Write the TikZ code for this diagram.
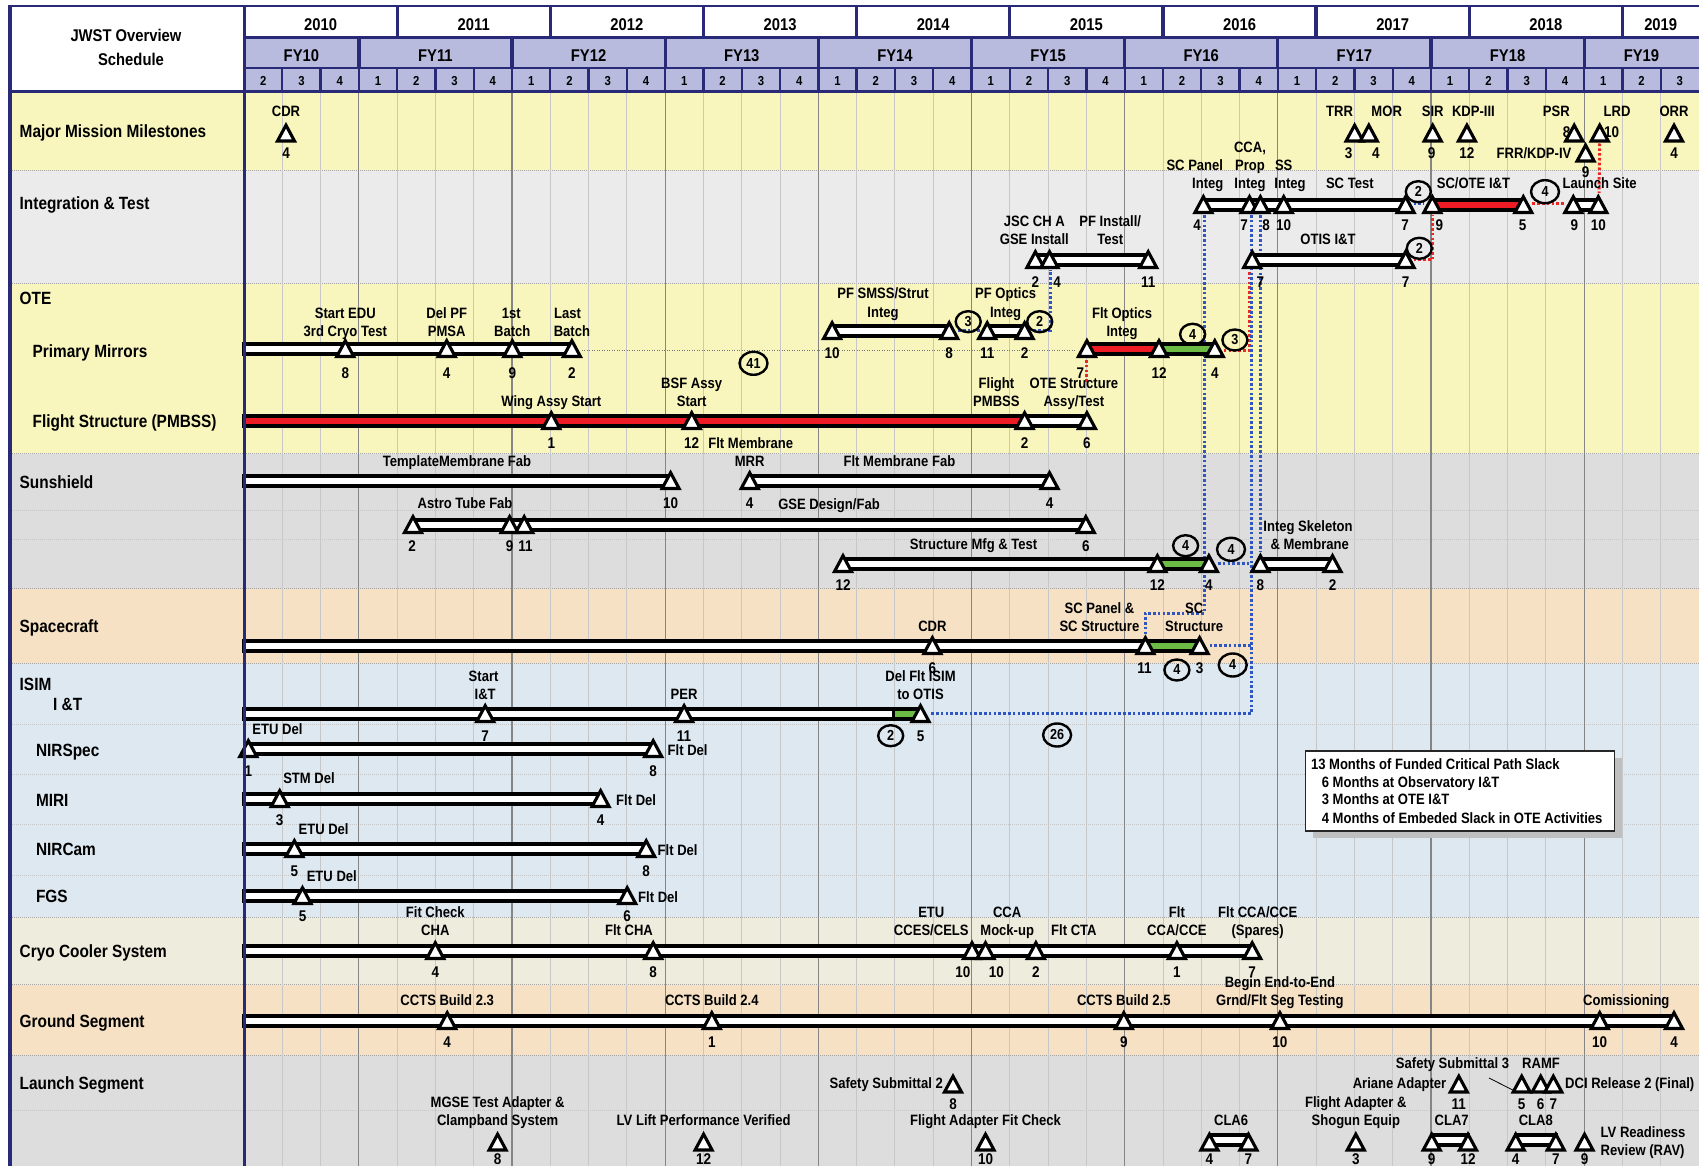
\documentclass[tikz,border=0pt]{standalone}
\usepackage{fontspec}
\newfontfamily\lf{Liberation Sans}[FakeStretch=0.87]
\usetikzlibrary{shapes.geometric,calc}
\definecolor{navy}{RGB}{40,42,120}
\definecolor{lav}{RGB}{184,186,222}
\definecolor{cyel}{RGB}{248,246,189}
\definecolor{cig}{RGB}{235,235,235}
\definecolor{csg}{RGB}{221,221,221}
\definecolor{cpe}{RGB}{246,225,196}
\definecolor{cbl}{RGB}{221,232,241}
\definecolor{ccr}{RGB}{238,237,221}
\definecolor{bred}{RGB}{237,28,36}
\definecolor{bgreen}{RGB}{108,187,69}
\definecolor{dblue}{RGB}{47,85,192}
\definecolor{dred}{RGB}{237,40,36}
\newcommand\fsz[1]{\fontsize{#1}{#1}\selectfont}
\newcounter{nd}
\newcommand\xl[4][lab]{\stepcounter{nd}\node[#1] (t\arabic{nd}) at (#2,#3) {#4};}
\newcommand\xcirc[4][circ]{\stepcounter{nd}\node[#1] (c\arabic{nd}) at (#2,#3) {#4};}
\newcommand\mtri[3]{\draw[trist] ({#2-8.5},{#3+7.5}) -- (#2,{#3-8.3}) -- ({#2+8.5},{#3+7.5}) -- cycle; \coordinate (#1) at (#2,#3);}
\newcommand\xbar[4]{\draw[barst, fill=#4] (#1,{#3-4.8}) rectangle (#2,{#3+4.8});}
\begin{document}
\begin{tikzpicture}[x=1pt,y=-1pt,
 lab/.style={font=\lf\bfseries\fsz{15}, inner sep=0pt, anchor=base, yshift=-5.35pt},
 labw/.style={lab, anchor=base west},
 labe/.style={lab, anchor=base east},
 num/.style={font=\lf\bfseries\fsz{15.5}, inner sep=0pt, anchor=base, yshift=-5.5pt},
 rowlab/.style={font=\lf\bfseries\fsz{17.7}, inner sep=0pt, anchor=base west, yshift=-6.3pt},
 hdr/.style={font=\lf\bfseries\fsz{17}, inner sep=0pt, anchor=base, yshift=-6.1pt},
 qtr/.style={font=\lf\bfseries\fsz{13}, inner sep=0pt, anchor=base, yshift=-4.7pt},
 circ/.style={ellipse, draw=black, line width=2.4pt, minimum width=25pt, minimum height=21pt, inner sep=0pt, font=\lf\bfseries\fsz{14.5}},
 bigcirc/.style={circ, minimum width=28pt, minimum height=23pt},
 trist/.style={draw=black, fill=white, line width=3.1pt, line join=miter},
 barst/.style={draw=black, line width=3.8pt},
 bdot/.style={draw=dblue, line width=3pt, dash pattern=on 2.6pt off 2.2pt},
 rdot/.style={draw=dred, line width=3pt, dash pattern=on 2.6pt off 2.2pt},
 faint/.style={draw=black!22, line width=0.7pt, dash pattern=on 1pt off 1pt},
 bnd/.style={draw=black!35, line width=0.8pt, dash pattern=on 1pt off 1pt},
 gridl/.style={draw=black!22, line width=0.9pt},
 gridd/.style={draw=black!48, line width=1.1pt},
 nv/.style={draw=navy}]
\useasboundingbox (0,0) rectangle (1699,1166);
\fill[white] (0,0) rectangle (1699,1166);
% bands
\fill[cyel] (10,93.3) rectangle (1699,170);
\fill[cig] (10,170) rectangle (1699,283.5);
\fill[cyel] (10,283.5) rectangle (1699,453.5);
\fill[csg] (10,453.5) rectangle (1699,588.5);
\fill[cpe] (10,588.5) rectangle (1699,663);
\fill[cbl] (10,663) rectangle (1699,917);
\fill[ccr] (10,917) rectangle (1699,984.5);
\fill[cpe] (10,984.5) rectangle (1699,1055);
\fill[csg] (10,1055) rectangle (1699,1166);
\foreach \y in {510,539,724,774,824,875,1110} \draw[faint] (10,\y) -- (1699,\y);
\foreach \y in {170,283.5,453.5,588.5,663,917,984.5,1055} \draw[bnd] (10,\y) -- (1699,\y);
% vertical grid
\foreach \i in {1,...,37}{
 \pgfmathsetmacro\xx{244+12.7632*3*\i}
 \pgfmathtruncatemacro\mm{mod(\i,4)}
 \ifnum\mm=3 \draw[gridd] (\xx,93.3) -- (\xx,1166); \else \draw[gridl] (\xx,93.3) -- (\xx,1166); \fi
}
% header
\fill[white] (10,5) rectangle (1699,37.7);
\fill[lav] (244,37.7) rectangle (1699,91.7);
\fill[white] (10,5) rectangle (244,91.7);
\draw[nv, line width=2.5pt] (8,6.2) -- (1699,6.2);
\draw[nv, line width=3.3pt] (244,37.7) -- (1699,37.7);
\draw[nv, line width=2.6pt] (244,68) -- (1699,68);
\draw[nv, line width=3.3pt] (8,91.7) -- (1699,91.7);
\foreach \k in {1,...,9}{\pgfmathsetmacro\xx{244+12.7632*12*\k}\draw[nv,line width=3.3pt] (\xx,6.2) -- (\xx,37.7);}
\foreach \k in {0,...,8}{\pgfmathsetmacro\xx{244+12.7632*(9+12*\k)}\draw[nv,line width=3.3pt] (\xx,37.7) -- (\xx,68);}
\foreach \i in {1,...,37}{\pgfmathsetmacro\xx{244+12.7632*3*\i}\draw[nv,line width=2.3pt] (\xx,68) -- (\xx,91.7);}
\foreach \k in {0,...,8}{\pgfmathsetmacro\xx{244+12.7632*(12*\k+6)}\pgfmathtruncatemacro\yr{2010+\k}\xl[hdr]{\xx}{24.5}{\yr}}
\xl[hdr]{1660.7}{24.5}{2019}
\xl[hdr]{301.4}{55}{FY10}
\foreach \k in {0,...,7}{\pgfmathsetmacro\xx{244+12.7632*(15+12*\k)}\pgfmathtruncatemacro\fy{11+\k}\xl[hdr]{\xx}{55}{FY\fy}}
\xl[hdr]{1641.5}{55}{FY19}
\foreach \i in {0,...,37}{\pgfmathsetmacro\xx{244+12.7632*(3*\i+1.5)}\pgfmathtruncatemacro\q{mod(\i+1,4)+1}\xl[qtr]{\xx}{81}{\q}}
\xl[hdr]{126}{35.8}{JWST Overview}
\xl[hdr]{131}{59.6}{Schedule}
% row labels
\xl[rowlab]{19.5}{131}{Major Mission Milestones}
\xl[rowlab]{19.5}{203.7}{Integration \& Test}
\xl[rowlab]{19.5}{298}{OTE}
\xl[rowlab]{32.5}{351}{Primary Mirrors}
\xl[rowlab]{32.5}{421.5}{Flight Structure (PMBSS)}
\xl[rowlab]{19.5}{482}{Sunshield}
\xl[rowlab]{19.5}{626}{Spacecraft}
\xl[rowlab]{19.5}{683.7}{ISIM}
\xl[rowlab]{53}{704}{I \&T}
\xl[rowlab]{35.8}{750}{NIRSpec}
\xl[rowlab]{35.8}{800}{MIRI}
\xl[rowlab]{35.8}{849.5}{NIRCam}
\xl[rowlab]{35.8}{896}{FGS}
\xl[rowlab]{19.5}{951}{Cryo Cooler System}
\xl[rowlab]{19.5}{1020.7}{Ground Segment}
\xl[rowlab]{19.5}{1083.6}{Launch Segment}
% named coordinates of milestones (for connectors)
\coordinate (mLRD) at (1599.7,133.5);
\coordinate (iP) at (1203.4,205); \coordinate (iC7) at (1249.5,205); \coordinate (iC8) at (1260.4,205);
\coordinate (iT) at (1405.6,205); \coordinate (iO1) at (1432.3,205); \coordinate (iO2) at (1523.3,205);
\coordinate (iL1) at (1573.3,205); \coordinate (iL2) at (1599,205);
\coordinate (jJ2) at (1049.5,260); \coordinate (jO1) at (1252.2,260); \coordinate (jO2) at (1405.6,260);
\coordinate (pS2) at (949.2,331); \coordinate (pO1) at (987.2,331); \coordinate (pO2) at (1024.6,331);
\coordinate (pm4) at (571.9,349); \coordinate (fo1) at (1086.9,349); \coordinate (fo3) at (1214.8,349);
\coordinate (fs4) at (1086.9,421);
\coordinate (t3) at (1208.9,564); \coordinate (k1) at (1260.4,564);
\coordinate (c2) at (1145.4,646); \coordinate (c3) at (1199.6,646);
\coordinate (d3) at (920.5,714);
% connectors
\draw[draw=black!55, line width=0.8pt, dash pattern=on 1pt off 1.5pt] ($(pm4)+(10,1)$) -- ($(fo1)+(-10,1)$);
\draw[rdot] ($(mLRD)+(0,10)$) -- ($(iL2)+(0,-12)$);
\draw[rdot] ($(iO2)+(9,-1.7)$) -- ($(iL1)+(-9,-1.7)$);
\draw[rdot] ($(jO2)+(8,0)$) -| ($(iO1)+(0,10)$);
\draw[rdot] ($(fo3)+(9,1)$) -| ($(jO1)+(-3,10)$);
\draw[rdot] ($(fo1)+(0,11)$) -- ($(fs4)+(0,-39)$);
\draw[bdot] ($(iT)+(8,-1.7)$) -- ($(iO1)+(-8,-1.7)$);
\draw[bdot] ($(pS2)+(9,-1)$) -- ($(pO1)+(-7,-1)$);
\draw[bdot] ($(pO2)+(9,-1)$) -| ($(jJ2)+(1,10)$);
\draw[bdot] ($(iP)+(0.6,10)$) -- ($(iP)+(0.6,408)$) -| ($(c2)+(0,-12)$);
\draw[bdot] ($(iC7)+(2,10)$) |- ($(d3)+(10,-0.7)$);
\draw[bdot] ($(iC8)+(0,10)$) -- ($(k1)+(0,-12)$);
\draw[bdot] ($(t3)+(9,-1)$) -- ($(iC7)+(2,358)$);
\draw[bdot] ($(c3)+(10,-0.3)$) -- ($(iC7)+(2,440.7)$);
% bars
\xbar{1203.4}{1405.6}{205}{white}
\xbar{1432.3}{1523.3}{205}{bred}
\xbar{1573.3}{1598.3}{205}{white}
\xbar{1035.4}{1148.2}{260}{white}
\xbar{1252.2}{1405.6}{260}{white}
\xbar{832.1}{949.2}{331}{white}
\xbar{987.2}{1024.6}{331}{white}
\xbar{244}{571.9}{349}{white}
\xbar{1086.9}{1159}{349}{bred}
\xbar{1159}{1214.8}{349}{bgreen}
\xbar{244}{1024.6}{421}{bred}
\xbar{1024.6}{1086.9}{421}{white}
\xbar{244}{670.6}{481}{white}
\xbar{749.7}{1049.5}{481}{white}
\xbar{413}{1085.8}{525}{white}
\xbar{843}{1157.4}{564}{white}
\xbar{1157.4}{1208.9}{564}{bgreen}
\xbar{1260.4}{1332.5}{564}{white}
\xbar{244}{1145.4}{646}{white}
\xbar{1145.4}{1199.6}{646}{bgreen}
\xbar{244}{893.4}{714}{white}
\xbar{893.4}{920.5}{714}{bgreen}
\xbar{248.3}{653.2}{749}{white}
\xbar{244}{600.6}{799}{white}
\xbar{244}{646.2}{849}{white}
\xbar{244}{627.2}{896}{white}
\xbar{244}{1252.2}{951}{white}
\xbar{244}{1674}{1021}{white}
\xbar{1209.4}{1248.4}{1140}{white}
\xbar{1431.7}{1468}{1140}{white}
\xbar{1515.7}{1555.8}{1140}{white}
% triangles
\mtri{mCDR}{286}{133.5}\mtri{mTRR}{1354.6}{133.5}\mtri{mMOR}{1368.8}{133.5}\mtri{mSIR}{1432.7}{133.5}
\mtri{mKDP}{1466.9}{133.5}\mtri{mPSR}{1574.2}{133.5}\mtri{mFRR}{1585.6}{153.5}\mtri{mLRDt}{1599.7}{133.5}\mtri{mORR}{1674}{133.5}
\mtri{iPt}{1203.4}{205}\mtri{iC7t}{1249.5}{205}\mtri{iC8t}{1260.4}{205}\mtri{iSt}{1283.7}{205}\mtri{iTt}{1405.6}{205}
\mtri{iO1t}{1432.3}{205}\mtri{iO2t}{1523.3}{205}\mtri{iL1t}{1573.3}{205}\mtri{iL2t}{1598.3}{205}
\mtri{jJ1}{1035.4}{260}\mtri{jJ2t}{1049.5}{260}\mtri{jJ3}{1148.2}{260}\mtri{jO1t}{1252.2}{260}\mtri{jO2t}{1405.6}{260}
\mtri{pS1}{832.1}{331}\mtri{pS2t}{949.2}{331}\mtri{pO1t}{987.2}{331}\mtri{pO2t}{1024.6}{331}
\mtri{pm1}{345.3}{349}\mtri{pm2}{446.7}{349}\mtri{pm3}{512.3}{349}\mtri{pm4t}{571.9}{349}
\mtri{fo1t}{1086.9}{349}\mtri{fo2}{1159}{349}\mtri{fo3t}{1214.8}{349}
\mtri{fs1}{551.3}{421}\mtri{fs2}{691.7}{421}\mtri{fs3}{1024.6}{421}\mtri{fs4t}{1086.9}{421}
\mtri{s1}{670.6}{481}\mtri{s2}{749.7}{481}\mtri{s3}{1049.5}{481}
\mtri{a1}{413}{525}\mtri{a2}{509.6}{525}\mtri{a3}{524.2}{525}\mtri{a4}{1085.8}{525}
\mtri{tt1}{843}{564}\mtri{tt2}{1157.4}{564}\mtri{tt3}{1208.9}{564}\mtri{k1t}{1260.4}{564}\mtri{k2}{1332.5}{564}
\mtri{c1}{932.4}{646}\mtri{c2t}{1145.4}{646}\mtri{c3t}{1199.6}{646}
\mtri{d1}{485.2}{714}\mtri{d2}{684.1}{714}\mtri{d3t}{920.5}{714}
\mtri{ns1}{248.3}{749}\mtri{ns2}{653.2}{749}
\mtri{mi1}{279.7}{799}\mtri{mi2}{600.6}{799}
\mtri{nc1}{294.4}{849}\mtri{nc2}{646.2}{849}
\mtri{fg1}{302.5}{896}\mtri{fg2}{627.2}{896}
\mtri{cc1}{435.3}{951}\mtri{cc2}{653.2}{951}\mtri{cc3}{972}{951}\mtri{cc4}{985.5}{951}\mtri{cc5}{1035.9}{951}\mtri{cc6}{1176.9}{951}\mtri{cc7}{1252.2}{951}
\mtri{g1}{447.2}{1021}\mtri{g2}{711.8}{1021}\mtri{g3}{1123.8}{1021}\mtri{g4}{1279.9}{1021}\mtri{g5}{1599.7}{1021}\mtri{g6}{1674}{1021}
\mtri{lu1}{953}{1084.5}\mtri{lu2}{1458.8}{1084.5}\mtri{lu3}{1521.7}{1084.5}\mtri{lu4}{1540.7}{1084.5}\mtri{lu5}{1553.3}{1084.5}
\mtri{ll1}{497.6}{1142.5}\mtri{ll2}{703.6}{1142.5}\mtri{ll3}{985.5}{1142.5}\mtri{ll4}{1209.4}{1142.5}\mtri{ll5}{1248.4}{1142.5}
\mtri{ll6}{1355.8}{1142.5}\mtri{ll7}{1431.7}{1142.5}\mtri{ll8}{1468}{1142.5}\mtri{ll9}{1515.7}{1142.5}\mtri{ll10}{1555.8}{1142.5}\mtri{ll11}{1584.5}{1142.5}
\draw[black, line width=0.8pt] (1489,1078) -- ($(lu3)+(-6,7)$);
% Major milestones labels
\xl{286}{110.7}{CDR}\xl[num]{286}{152.7}{4}
\xl{1339.5}{110.7}{TRR}\xl[num]{1348.7}{152.7}{3}
\xl{1386.7}{110.7}{MOR}\xl[num]{1375.8}{152.7}{4}
\xl{1432.7}{110.7}{SIR}\xl[num]{1431.7}{152.7}{9}
\xl{1473.4}{110.7}{KDP-III}\xl[num]{1466.9}{152.7}{12}
\xl{1556.3}{110.7}{PSR}\xl[num]{1566.7}{131.7}{8}
\xl{1617}{110.7}{LRD}\xl[num]{1611.6}{131.7}{10}
\xl{1534}{153.3}{FRR/KDP-IV}\xl[num]{1585.6}{172.3}{9}
\xl{1674}{110.7}{ORR}\xl[num]{1674}{152.7}{4}
% Integration & Test
\xl{1194.8}{165}{SC Panel}\xl{1207.8}{182.7}{Integ}
\xl{1250}{146.7}{CCA,}\xl{1250}{165}{Prop}\xl{1250}{182.7}{Integ}
\xl{1283.7}{165}{SS}\xl{1290}{182.7}{Integ}
\xl{1349.8}{182.7}{SC Test}
\xl{1473.4}{182.7}{SC/OTE I\&T}
\xl{1599.7}{182.7}{Launch Site}
\xl[num]{1197}{225}{4}\xl[num]{1244}{225}{7}\xl[num]{1266}{225}{8}\xl[num]{1283.7}{225}{10}\xl[num]{1405}{225}{7}
\xl[num]{1439.3}{225}{9}\xl[num]{1522.7}{225}{5}\xl[num]{1574.3}{225}{9}\xl[num]{1598.3}{225}{10}
\xl{1034.3}{220.7}{JSC CH A}\xl{1034.3}{238.7}{GSE Install}
\xl{1110.2}{220.7}{PF Install/}\xl{1110.2}{238.7}{Test}
\xl{1328}{238.7}{OTIS I\&T}
\xl[num]{1035.4}{281.7}{2}\xl[num]{1057}{281.7}{4}\xl[num]{1148.2}{281.7}{11}\xl[num]{1260.4}{281.7}{7}\xl[num]{1405.6}{281.7}{7}
% OTE
\xl{883}{292.7}{PF SMSS/Strut}\xl{883}{311.7}{Integ}
\xl{1005.6}{292.7}{PF Optics}\xl{1005.6}{311.7}{Integ}
\xl[num]{832.1}{352.7}{10}\xl[num]{949.2}{352.7}{8}\xl[num]{987.2}{352.7}{11}\xl[num]{1024.6}{352.7}{2}
\xl{345.3}{312.7}{Start EDU}\xl{345.3}{330.7}{3rd Cryo Test}
\xl{446.7}{312.7}{Del PF}\xl{446.7}{330.7}{PMSA}
\xl{511.2}{312.7}{1st}\xl{512.3}{330.7}{Batch}
\xl{567.6}{312.7}{Last}\xl{571.9}{330.7}{Batch}
\xl[num]{345.3}{372.7}{8}\xl[num]{446.7}{372.7}{4}\xl[num]{512.3}{372.7}{9}\xl[num]{571.9}{372.7}{2}
\xl{1122.1}{312.7}{Flt Optics}\xl{1122.1}{330.7}{Integ}
\xl[num]{1080.4}{372.7}{7}\xl[num]{1159}{372.7}{12}\xl[num]{1214.8}{372.7}{4}
\xl{551.3}{400.7}{Wing Assy Start}
\xl{691.7}{382.7}{BSF Assy}\xl{691.7}{400.7}{Start}
\xl{996.4}{382.7}{Flight}\xl{996.4}{400.7}{PMBSS}
\xl{1073.9}{382.7}{OTE Structure}\xl{1073.9}{400.7}{Assy/Test}
\xl[num]{551.3}{442.7}{1}\xl[num]{691.7}{442.7}{12}\xl[num]{1024.6}{442.7}{2}\xl[num]{1086.9}{442.7}{6}
\xl{750.8}{442.7}{Flt Membrane}
% Sunshield
\xl{457}{460.7}{TemplateMembrane Fab}
\xl{749.7}{460.7}{MRR}\xl{899.4}{460.7}{Flt Membrane Fab}
\xl[num]{670.6}{502.7}{10}\xl[num]{749.7}{502.7}{4}\xl[num]{1049.5}{502.7}{4}
\xl{465.1}{503.3}{Astro Tube Fab}\xl{829}{503.9}{GSE Design/Fab}
\xl[num]{412}{546}{2}\xl[num]{509.6}{546}{9}\xl[num]{525.5}{546}{11}\xl[num]{1085.8}{546}{6}
\xl{973.6}{544}{Structure Mfg \& Test}
\xl{1308}{526}{Integ Skeleton}\xl{1309.7}{544}{\& Membrane}
\xl[num]{843}{585}{12}\xl[num]{1157.4}{585}{12}\xl[num]{1208.9}{585}{4}\xl[num]{1260.4}{585}{8}\xl[num]{1332.5}{585}{2}
% Spacecraft
\xl{932.4}{625.7}{CDR}
\xl{1099.4}{607.7}{SC Panel \&}\xl{1099.4}{625.7}{SC Structure}
\xl{1194.2}{607.7}{SC}\xl{1194.2}{625.7}{Structure}
\xl[num]{932.4}{667.7}{6}\xl[num]{1144.4}{667.7}{11}\xl[num]{1199.6}{667.7}{3}
% ISIM
\xl{483.6}{676}{Start}\xl{485.2}{694}{I\&T}\xl{684.1}{694}{PER}
\xl{920.5}{676}{Del Flt ISIM}\xl{920.5}{694}{to OTIS}
\xl[num]{485.2}{735.7}{7}\xl[num]{684.1}{735.7}{11}\xl[num]{920.5}{735.7}{5}
\xl{277.5}{729}{ETU Del}\xl[labw]{667.5}{750}{Flt Del}
\xl[num]{248.3}{770.7}{1}\xl[num]{653.2}{770.7}{8}
\xl{309}{778.3}{STM Del}\xl[labw]{616}{800}{Flt Del}
\xl[num]{279.7}{820}{3}\xl[num]{600.6}{820}{4}
\xl{323.6}{829}{ETU Del}\xl[labw]{657.5}{850}{Flt Del}
\xl[num]{294.4}{870.7}{5}\xl[num]{646.2}{870.7}{8}
\xl{331.8}{875.7}{ETU Del}\xl[labw]{638}{896.7}{Flt Del}
\xl[num]{302.5}{916}{5}\xl[num]{627.2}{916}{6}
% Cryo
\xl{435.3}{911.7}{Fit Check}\xl{435.3}{930}{CHA}
\xl{629}{930}{Flt CHA}
\xl{931.3}{911.7}{ETU}\xl{931.3}{930}{CCES/CELS}
\xl{1007.2}{911.7}{CCA}\xl{1007.2}{930}{Mock-up}
\xl{1073.9}{930}{Flt CTA}
\xl{1176.9}{911.7}{Flt}\xl{1176.9}{930}{CCA/CCE}
\xl{1257.7}{911.7}{Flt CCA/CCE}\xl{1257.7}{930}{(Spares)}
\xl[num]{435.3}{971.7}{4}\xl[num]{653.2}{971.7}{8}\xl[num]{962.8}{971.7}{10}\xl[num]{996.4}{971.7}{10}
\xl[num]{1035.9}{971.7}{2}\xl[num]{1176.9}{971.7}{1}\xl[num]{1252.2}{971.7}{7}
% Ground
\xl{447.2}{1000}{CCTS Build 2.3}\xl{711.8}{1000}{CCTS Build 2.4}\xl{1123.8}{1000}{CCTS Build 2.5}
\xl{1279.9}{981.7}{Begin End-to-End}\xl{1279.9}{1000}{Grnd/Flt Seg Testing}
\xl{1626.3}{1000}{Comissioning}
\xl[num]{447.2}{1042.3}{4}\xl[num]{711.8}{1042.3}{1}\xl[num]{1123.8}{1042.3}{9}\xl[num]{1279.9}{1042.3}{10}
\xl[num]{1599.7}{1042.3}{10}\xl[num]{1674}{1042.3}{4}
% Launch
\xl[labe]{943}{1083.3}{Safety Submittal 2}\xl[num]{953}{1104}{8}
\xl[labe]{1446.5}{1083.3}{Ariane Adapter}\xl[num]{1458.8}{1104}{11}
\xl{1452.5}{1063.3}{Safety Submittal 3}\xl{1541}{1063}{RAMF}
\xl[labw]{1565}{1083.3}{DCI Release 2 (Final)}
\xl[num]{1521.7}{1104}{5}\xl[num]{1540.7}{1104}{6}\xl[num]{1553.3}{1104}{7}
\xl{497.6}{1101.7}{MGSE Test Adapter \&}\xl{497.6}{1120}{Clampband System}
\xl{703.6}{1120}{LV Lift Performance Verified}
\xl{985.5}{1120}{Flight Adapter Fit Check}
\xl{1231.1}{1120}{CLA6}
\xl{1355.8}{1101.7}{Flight Adapter \&}\xl{1355.8}{1120}{Shogun Equip}
\xl{1451.7}{1120}{CLA7}\xl{1535.8}{1120}{CLA8}
\xl[labw]{1600.5}{1132.3}{LV Readiness}\xl[labw]{1600.5}{1150}{Review (RAV)}
\xl[num]{497.6}{1159.3}{8}\xl[num]{703.6}{1159.3}{12}\xl[num]{985.5}{1159.3}{10}\xl[num]{1209.4}{1159.3}{4}
\xl[num]{1248.4}{1159.3}{7}\xl[num]{1355.8}{1159.3}{3}\xl[num]{1431.7}{1159.3}{9}\xl[num]{1468}{1159.3}{12}
\xl[num]{1515.7}{1159.3}{4}\xl[num]{1555.8}{1159.3}{7}\xl[num]{1584.5}{1159.3}{9}
% slack circles
\xcirc{1418.3}{191.7}{2}\xcirc[bigcirc]{1545}{191.7}{4}\xcirc{1419.3}{248.3}{2}
\xcirc{968.2}{321.7}{3}\xcirc{1039.7}{321.7}{2}\xcirc[bigcirc]{753.5}{363.3}{41}
\xcirc{1192.6}{334.3}{4}\xcirc{1234.9}{340}{3}
\xcirc{1185.6}{545.7}{4}\xcirc[bigcirc]{1231}{549.3}{4}
\xcirc{1176.9}{670}{4}\xcirc[bigcirc]{1232.7}{665}{4}
\xcirc{890.7}{735.7}{2}\xcirc[bigcirc]{1057.1}{735}{26}
% legend
\fill[black!25] (1313,758) rectangle (1622,838);
\draw[fill=white, draw=black!85, line width=1.2pt] (1305.4,751) rectangle (1614.4,831);
\xl[labw]{1310.8}{764.3}{13 Months of Funded Critical Path Slack}
\xl[labw]{1321.6}{781.7}{6 Months at Observatory I\&T}
\xl[labw]{1321.6}{799.3}{3 Months at OTE I\&T}
\xl[labw]{1321.6}{817.7}{4 Months of Embeded Slack in OTE Activities}
% frame lines
\draw[nv, line width=4pt] (10,4.9) -- (10,1166);
\draw[nv, line width=3.4pt] (244.3,4.9) -- (244.3,1166);
\end{tikzpicture}
\end{document}
